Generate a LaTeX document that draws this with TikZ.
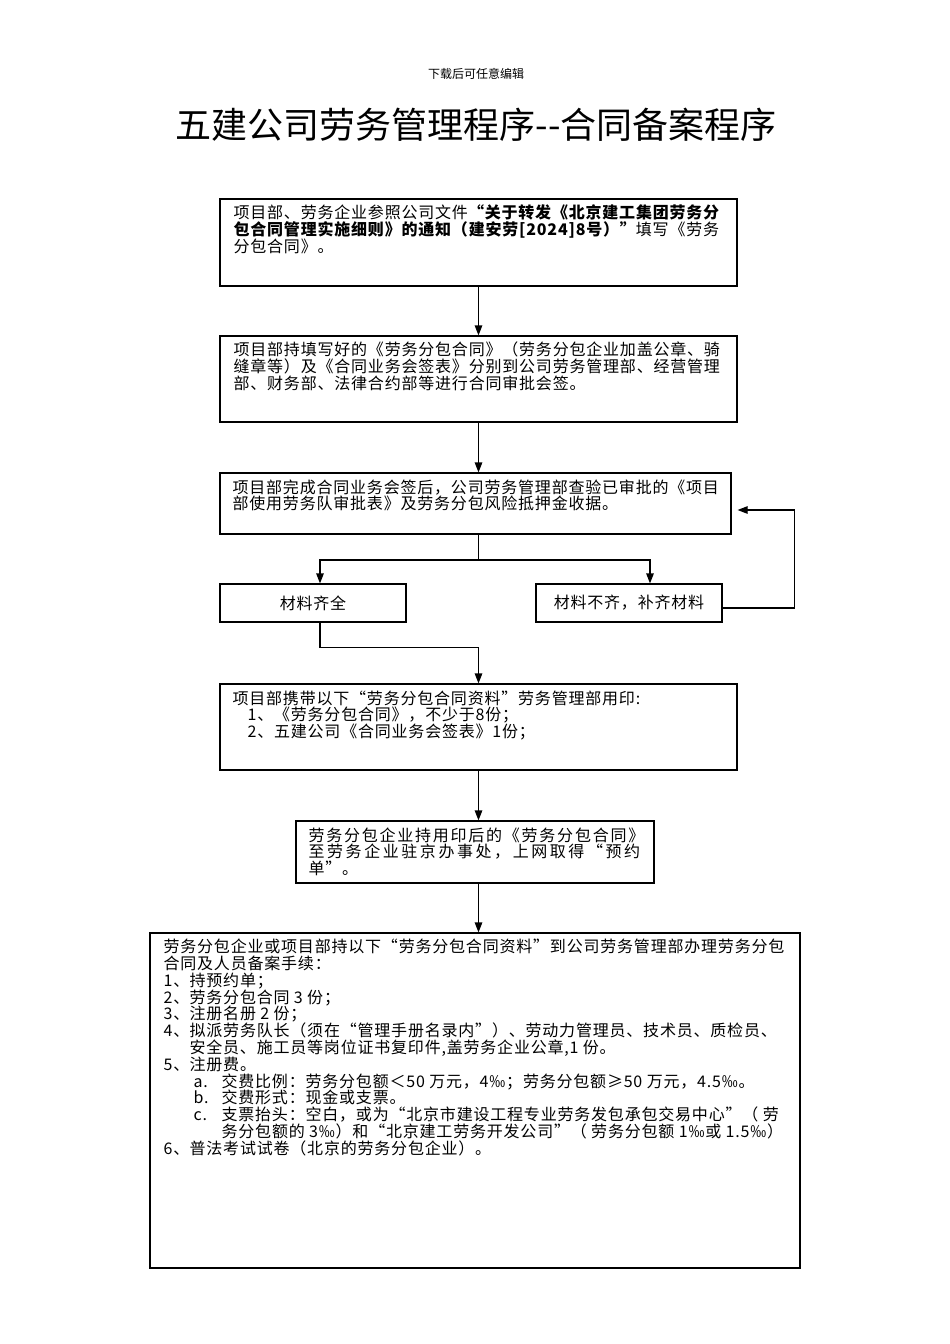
\documentclass[tikz,border=0pt]{standalone}
\usepackage{fontspec}
\setmainfont{Noto Sans CJK SC}
\usetikzlibrary{arrows.meta}
\tikzset{
  box/.style={draw, line width=1.2pt, inner sep=0pt},
  txt/.style={anchor=north west, align=left, inner sep=0pt,
    font=\fontsize{16}{16.8}\selectfont\addfontfeature{LetterSpace=5}},
  ctxt/.style={font=\fontsize{16}{16.8}\selectfont\addfontfeature{LetterSpace=5}},
  arr/.style={line width=1.2pt, -{Triangle[length=10pt,width=7.5pt]}},
  ln/.style={line width=1.2pt},
}
\newcommand{\lbl}[1]{\makebox[26pt][l]{#1}}
\newcommand{\slbl}[1]{\hspace*{30pt}\makebox[28pt][l]{#1}}
\begin{document}
\begin{tikzpicture}[x=1pt,y=-1pt]
\useasboundingbox (0,0) rectangle (950,1344);
% header and title
\node[inner sep=0pt, font=\fontsize{12}{14}\selectfont] (hdr) at (476,74) {下载后可任意编辑};
\node[inner sep=0pt, font=\fontsize{36}{40}\selectfont] (ttl) at (476,125) {五建公司劳务管理程序-{}-合同备案程序};
% boxes
\node[box, minimum width=517pt, minimum height=87pt] (b1) at (478.5,242.5) {};
\node[box, minimum width=517pt, minimum height=86pt] (b2) at (478.5,379) {};
\node[box, minimum width=511pt, minimum height=61pt] (b3) at (475.5,503.5) {};
\node[box, ctxt, minimum width=186pt, minimum height=38pt] (b4) at (313,603) {材料齐全};
\node[box, ctxt, minimum width=186pt, minimum height=38pt] (b5) at (629,603) {材料不齐，补齐材料};
\node[box, minimum width=517pt, minimum height=86pt] (b6) at (478.5,727) {};
\node[box, minimum width=358pt, minimum height=62pt] (b7) at (475,852) {};
\node[box, minimum width=650pt, minimum height=335pt] (b8) at (475,1100.5) {};
% texts
\node[txt] (t1) at ([shift={(14,6.5)}]b1.north west) {项目部、劳务企业参照公司文件{\bfseries “关于转发《北京建工集团劳务分}\\{\bfseries 包合同管理实施细则》的通知（建安劳[2024]8号）”}填写《劳务\\分包合同》。};
\node[txt] (t2) at ([shift={(14,6.5)}]b2.north west) {项目部持填写好的《劳务分包合同》（劳务分包企业加盖公章、骑\\缝章等）及《合同业务会签表》分别到公司劳务管理部、经营管理\\部、财务部、法律合约部等进行合同审批会签。};
\node[txt] (t3) at ([shift={(13,7)}]b3.north west) {项目部完成合同业务会签后，公司劳务管理部查验已审批的《项目\\部使用劳务队审批表》及劳务分包风险抵押金收据。};
\node[txt] (t6) at ([shift={(13,7)}]b6.north west) {项目部携带以下“劳务分包合同资料”劳务管理部用印:\\\hspace*{15pt}1、《劳务分包合同》，不少于8份；\\\hspace*{15pt}2、五建公司《合同业务会签表》1份；};
\node[txt] (t7) at ([shift={(13,7)}]b7.north west) {\addfontfeature{LetterSpace=11}劳务分包企业持用印后的《劳务分包合同》\\\addfontfeature{LetterSpace=16}至劳务企业驻京办事处，上网取得“预约\\单”。};
\node[txt] (t8) at ([shift={(14,6.5)}]b8.north west) {劳务分包企业或项目部持以下“劳务分包合同资料”到公司劳务管理部办理劳务分包\\合同及人员备案手续：\\
\lbl{1、}持预约单；\\
\lbl{2、}劳务分包合同 3 份；\\
\lbl{3、}注册名册 2 份；\\
\lbl{4、}拟派劳务队长（须在“管理手册名录内”）、劳动力管理员、技术员、质检员、\\
\hspace*{26pt}安全员、施工员等岗位证书复印件,盖劳务企业公章,1 份。\\
\lbl{5、}注册费。\\
\slbl{a.}交费比例：劳务分包额＜50 万元，4‰；劳务分包额≥50 万元，4.5‰。\\
\slbl{b.}交费形式：现金或支票。\\
\slbl{c.}支票抬头：空白，或为“北京市建设工程专业劳务发包承包交易中心”（ 劳\\
\hspace*{58pt}务分包额的 3‰）和“北京建工劳务开发公司”（ 劳务分包额 1‰或 1.5‰）\\
\lbl{6、}普法考试试卷（北京的劳务分包企业）。};
% connectors
\draw[arr] (b1.south) -- (b2.north);
\draw[arr] (b2.south) -- (b2.south |- b3.north);
\coordinate (sp) at (478.5,560);
\draw[ln] (b2.south |- b3.south) -- (sp);
\draw[arr] (sp) -| ([xshift=7pt]b4.north);
\draw[arr] (sp) -| ([xshift=21pt]b5.north);
\draw[arr] ([yshift=-5pt]b5.east) -- ++(72,0) |- ([xshift=6pt,yshift=-6.5pt]b3.east);
\draw[arr] ([xshift=7pt]b4.south) -- ++(0,25) -| (b6.north);
\draw[arr] (b6.south) -- (b6.south |- b7.north);
\draw[arr] (b6.south |- b7.south) -- (b6.south |- b8.north);
\end{tikzpicture}
\end{document}
